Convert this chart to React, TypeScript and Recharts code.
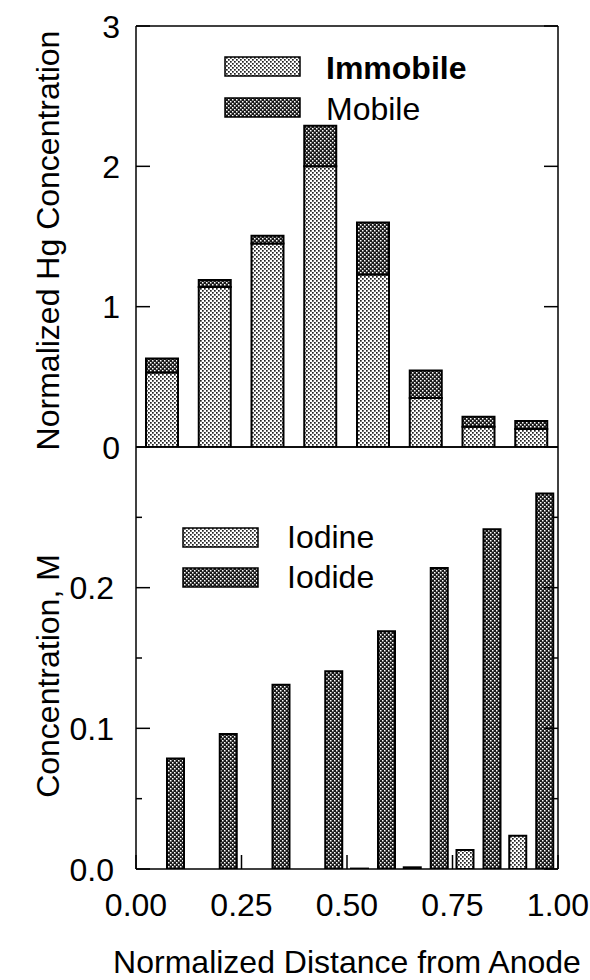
import React from 'react';
import { BarChart, Bar, XAxis, YAxis, Legend } from 'recharts';

// ---- data ----
const positions = [0.0625, 0.1875, 0.3125, 0.4375, 0.5625, 0.6875, 0.8125, 0.9375];
const immobile = [0.53, 1.14, 1.45, 2.0, 1.23, 0.35, 0.145, 0.128];
const mobile = [0.1, 0.05, 0.055, 0.29, 0.37, 0.195, 0.07, 0.057];
const iodine = [0, 0, 0, 0, 0.0003, 0.0012, 0.0135, 0.0236];
const iodide = [0.0785, 0.096, 0.131, 0.1405, 0.169, 0.214, 0.2415, 0.267];

const xTicks = [0, 0.25, 0.5, 0.75, 1];
const hgTicks = [0, 1, 2, 3];
const concMajorTicks = [0, 0.1, 0.2];
const concMinorTicks = [0.05, 0.15, 0.25];
const hgSeries = ['Immobile', 'Mobile'];
const concSeries = ['Iodine', 'Iodide'];
const legendBold = ['Immobile'];

const hgData = positions.map((p, i) => ({ pos: p, Immobile: immobile[i], Mobile: mobile[i] }));
const concData = positions.map((p, i) => ({ pos: p, Iodine: iodine[i], Iodide: iodide[i] }));

const FONT = '"Liberation Sans", Arial, Helvetica, sans-serif';
const LIGHT = 'url(#patLight)';
const DARK = 'url(#patDark)';
const fillByName: Record<string, string> = { Immobile: LIGHT, Mobile: DARK, Iodine: LIGHT, Iodide: DARK };

const axisLineStyle = { stroke: '#000', strokeWidth: 1.5 };

function makeYTick(side: 'left' | 'right', majors: number[], fmt: ((v: number) => string) | null, gap: number) {
  return (props: any) => {
    const { x, y, payload } = props;
    const v = payload.value;
    const isMajor = majors.includes(v);
    const len = isMajor ? 14 : 6;
    const dir = side === 'left' ? 1 : -1;
    return (
      <g>
        <line x1={x} y1={y} x2={x + dir * len} y2={y} stroke="#000" strokeWidth={1.5} />
        {fmt && isMajor ? (
          <text x={x - gap} y={y} dy="0.36em" textAnchor="end" fontSize={32} fontFamily={FONT} fill="#000">
            {fmt(v)}
          </text>
        ) : null}
      </g>
    );
  };
}

const hgLeftTick = makeYTick('left', hgTicks, (v) => String(v), 16);
const hgRightTick = makeYTick('right', hgTicks, null, 0);
const concLeftTick = makeYTick('left', concMajorTicks, (v) => v.toFixed(1), 22);
const concRightTick = makeYTick('right', concMajorTicks, null, 0);

function makeLegend(order: string[], textX: number, rowGap: number, baseline: number) {
  return (props: any) => {
    const raw = props.payload || [];
    const payload = [...raw].sort((a: any, b: any) => order.indexOf(a.value) - order.indexOf(b.value));
    return (
      <svg width={330} height={rowGap * payload.length + 12} style={{ display: 'block', overflow: 'visible' }}>
        {payload.map((e: any, i: number) => (
          <g key={e.value}>
            <rect
              x={1}
              y={2 + i * rowGap}
              width={75}
              height={19}
              fill={fillByName[e.value] || e.color}
              stroke="#000"
              strokeWidth={1.5}
            />
            <text
              x={textX}
              y={baseline + i * rowGap}
              fontSize={32}
              fontWeight={legendBold.includes(e.value) ? 'bold' : 'normal'}
              fontFamily={FONT}
              fill="#000"
            >
              {e.value}
            </text>
          </g>
        ))}
      </svg>
    );
  };
}

function makeYTitle(text: string, cxOff: number, cyOff: number) {
  return (props: any) => {
    const vb = props.viewBox || { x: 0, y: 0, width: 0, height: 0 };
    const cx = vb.x + cxOff;
    const cy = vb.y + vb.height / 2 + cyOff;
    return (
      <text
        x={cx}
        y={cy}
        dy="0.36em"
        textAnchor="middle"
        transform={`rotate(-90, ${cx}, ${cy})`}
        fontSize={32}
        fontFamily={FONT}
        fill="#000"
      >
        {text}
      </text>
    );
  };
}

const xTitle = (props: any) => {
  const vb = props.viewBox || { x: 0, y: 0, width: 0, height: 0 };
  const cx = vb.x + vb.width / 2;
  const cy = vb.y + 92;
  return (
    <text x={cx} y={cy} dy="0.36em" textAnchor="middle" fontSize={32} fontFamily={FONT} fill="#000">
      Normalized Distance from Anode
    </text>
  );
};

export default function App() {
  return (
    <div style={{ position: 'absolute', left: 0, top: 0, width: 590, height: 980, background: '#fff', fontFamily: FONT }}>
      <div style={{ position: 'absolute', left: 0, top: 446 }}>
        <BarChart width={590} height={534} data={concData} margin={{ top: 0, right: 31, bottom: 0, left: 0 }} barGap={10}>
          <XAxis xAxisId="cat" dataKey="pos" type="category" hide />
          <XAxis
            xAxisId="top"
            orientation="top"
            dataKey="pos"
            type="number"
            domain={[0, 1]}
            ticks={xTicks}
            allowDataOverflow
            height={1}
            tick={false}
            tickSize={-14}
            axisLine={axisLineStyle}
            tickLine={axisLineStyle}
          />
          <XAxis
            xAxisId="bot"
            orientation="bottom"
            dataKey="pos"
            type="number"
            domain={[0, 1]}
            ticks={xTicks}
            allowDataOverflow
            interval={0}
            height={111}
            tickSize={-14}
            tickMargin={38}
            tick={{ fontSize: 32, fill: '#000', fontFamily: FONT }}
            tickFormatter={(v: number) => v.toFixed(2)}
            axisLine={axisLineStyle}
            tickLine={axisLineStyle}
            label={xTitle}
          />
          <YAxis
            yAxisId="l"
            orientation="left"
            width={136}
            type="number"
            domain={[0, 0.3]}
            ticks={[...concMajorTicks, ...concMinorTicks]}
            allowDataOverflow
            interval={0}
            tickSize={0}
            tickMargin={0}
            tickLine={false}
            tick={concLeftTick}
            axisLine={axisLineStyle}
            label={makeYTitle('Concentration, M', 47, 18)}
          />
          <YAxis
            yAxisId="r"
            orientation="right"
            width={1}
            type="number"
            domain={[0, 0.3]}
            ticks={[...concMajorTicks, ...concMinorTicks]}
            allowDataOverflow
            interval={0}
            tickSize={0}
            tickMargin={0}
            tickLine={false}
            tick={concRightTick}
            axisLine={axisLineStyle}
          />
          <Legend
            layout="vertical"
            align="center"
            verticalAlign="middle"
            width={330}
            wrapperStyle={{ left: 182, top: 80, width: 330 }}
            content={makeLegend(concSeries, 105, 40, 22)}
          />
          <Bar xAxisId="cat" yAxisId="l" dataKey="Iodine" barSize={17} fill={LIGHT} stroke="#000" strokeWidth={2} isAnimationActive={false} />
          <Bar xAxisId="cat" yAxisId="l" dataKey="Iodide" barSize={17} fill={DARK} stroke="#000" strokeWidth={2} isAnimationActive={false} />
        </BarChart>
      </div>
      <div style={{ position: 'absolute', left: 0, top: 0, pointerEvents: 'none' }}>
        <BarChart width={590} height={480} data={hgData} margin={{ top: 25, right: 31, bottom: 32, left: 0 }} barSize={32}>
          <defs>
            <pattern id="patLight" patternUnits="userSpaceOnUse" width={4} height={4}>
              <rect x={0} y={0} width={4} height={4} fill="#fff" />
              <rect x={0} y={0} width={1.7} height={1.7} fill="#222" />
              <rect x={2} y={2} width={1.7} height={1.7} fill="#222" />
            </pattern>
            <pattern id="patDark" patternUnits="userSpaceOnUse" width={4} height={4}>
              <rect x={0} y={0} width={4} height={4} fill="#1a1a1a" />
              <rect x={0} y={0} width={1.5} height={1.5} fill="#fff" />
              <rect x={2} y={2} width={1.5} height={1.5} fill="#fff" />
            </pattern>
          </defs>
          <XAxis xAxisId="cat" dataKey="pos" type="category" hide />
          <XAxis
            xAxisId="top"
            orientation="top"
            dataKey="pos"
            type="number"
            domain={[0, 1]}
            ticks={xTicks}
            allowDataOverflow
            height={1}
            tick={false}
            tickSize={-14}
            axisLine={axisLineStyle}
            tickLine={axisLineStyle}
          />
          <XAxis
            xAxisId="bot"
            orientation="bottom"
            dataKey="pos"
            type="number"
            domain={[0, 1]}
            ticks={xTicks}
            allowDataOverflow
            height={1}
            tick={false}
            tickSize={-14}
            axisLine={axisLineStyle}
            tickLine={axisLineStyle}
          />
          <YAxis
            yAxisId="l"
            orientation="left"
            width={136}
            type="number"
            domain={[0, 3]}
            ticks={hgTicks}
            allowDataOverflow
            interval={0}
            tickSize={0}
            tickMargin={0}
            tickLine={false}
            tick={hgLeftTick}
            axisLine={axisLineStyle}
            label={makeYTitle('Normalized Hg Concentration', 47, 4)}
          />
          <YAxis
            yAxisId="r"
            orientation="right"
            width={1}
            type="number"
            domain={[0, 3]}
            ticks={hgTicks}
            allowDataOverflow
            interval={0}
            tickSize={0}
            tickMargin={0}
            tickLine={false}
            tick={hgRightTick}
            axisLine={axisLineStyle}
          />
          <Legend
            layout="vertical"
            align="center"
            verticalAlign="middle"
            width={330}
            wrapperStyle={{ left: 224, top: 55, width: 330 }}
            content={makeLegend(hgSeries, 102, 41, 24)}
          />
          <Bar xAxisId="cat" yAxisId="l" dataKey="Immobile" stackId="s" fill={LIGHT} stroke="#000" strokeWidth={2} isAnimationActive={false} />
          <Bar xAxisId="cat" yAxisId="l" dataKey="Mobile" stackId="s" fill={DARK} stroke="#000" strokeWidth={2} isAnimationActive={false} />
        </BarChart>
      </div>
    </div>
  );
}
